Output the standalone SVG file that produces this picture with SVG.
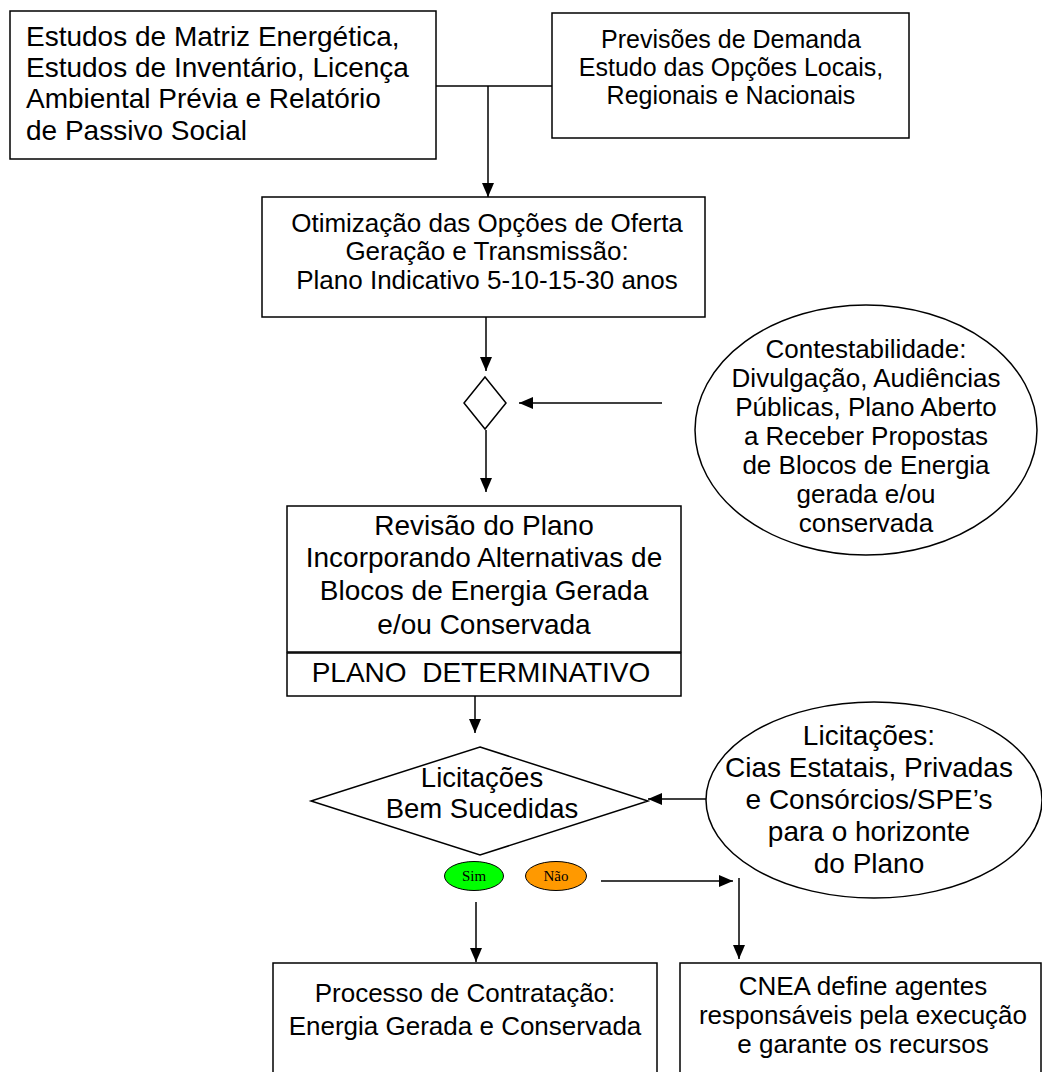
<svg xmlns="http://www.w3.org/2000/svg" width="1042" height="1072" viewBox="0 0 1042 1072">
<defs>
<marker id="ah" markerUnits="userSpaceOnUse" markerWidth="14" markerHeight="12" refX="14" refY="6" orient="auto">
<path d="M0,0 L14,6 L0,12 z" fill="#000"/>
</marker>
<style>
.box{fill:#fff;stroke:#000;stroke-width:1.5}
.t{font-family:"Liberation Sans",Arial,sans-serif;fill:#000}
.c{text-anchor:middle}
.ln{fill:none;stroke:#000;stroke-width:1.5}
.ar{fill:none;stroke:#000;stroke-width:1.5;marker-end:url(#ah)}
.s{font-family:"Liberation Serif","Times New Roman",serif;font-size:15px;text-anchor:middle;fill:#000}
</style>
</defs>
<rect width="1042" height="1072" fill="#fff"/>
<g id="connectors">
<line class="ln" x1="436" y1="86" x2="552" y2="86"/>
<line class="ar" x1="488" y1="86" x2="488" y2="197"/>
<line class="ar" x1="486" y1="317" x2="486" y2="371"/>
<line class="ar" x1="662" y1="403" x2="519" y2="403"/>
<line class="ar" x1="486" y1="430" x2="486" y2="492"/>
<line class="ar" x1="475" y1="696" x2="475" y2="733"/>
<line class="ar" x1="706" y1="799" x2="648" y2="799"/>
<line class="ar" x1="601" y1="881" x2="733" y2="881"/>
<line class="ar" x1="739" y1="878" x2="739" y2="959"/>
<line class="ar" x1="476" y1="902" x2="476" y2="962"/>
</g>
<g id="n1">
<rect class="box" x="10" y="11" width="426" height="148"/>
<text class="t" font-size="28" x="26" y="46">Estudos de Matriz Energética,</text>
<text class="t" font-size="28" x="26" y="77">Estudos de Inventário, Licença</text>
<text class="t" font-size="28" x="26" y="108">Ambiental Prévia e Relatório</text>
<text class="t" font-size="28" x="26" y="140">de Passivo Social</text>
</g>
<g id="n2">
<rect class="box" x="552" y="13" width="357" height="125"/>
<text class="t c" font-size="25" x="731" y="48">Previsões de Demanda</text>
<text class="t c" font-size="25" x="731" y="76">Estudo das Opções Locais,</text>
<text class="t c" font-size="25" x="731" y="104">Regionais e Nacionais</text>
</g>
<g id="n3">
<rect class="box" x="262" y="197" width="443" height="120"/>
<text class="t c" font-size="26" x="487" y="232">Otimização das Opções de Oferta</text>
<text class="t c" font-size="26" x="487" y="260">Geração e Transmissão:</text>
<text class="t c" font-size="26" x="487" y="289">Plano Indicativo 5-10-15-30 anos</text>
</g>
<g id="n4">
<polygon class="box" points="485,377 506,403 485,429 464,403"/>
</g>
<g id="n5">
<ellipse class="box" cx="866" cy="430" rx="171" ry="125"/>
<text class="t c" font-size="26" x="866" y="358">Contestabilidade:</text>
<text class="t c" font-size="26" x="866" y="387">Divulgação, Audiências</text>
<text class="t c" font-size="26" x="866" y="416">Públicas, Plano Aberto</text>
<text class="t c" font-size="26" x="866" y="445">a Receber Propostas</text>
<text class="t c" font-size="26" x="866" y="474">de Blocos de Energia</text>
<text class="t c" font-size="26" x="866" y="503">gerada e/ou</text>
<text class="t c" font-size="26" x="866" y="532">conservada</text>
</g>
<g id="n6">
<rect class="box" x="287" y="506" width="394" height="146"/>
<text class="t c" font-size="28" x="484" y="535">Revisão do Plano</text>
<text class="t c" font-size="28" x="484" y="567">Incorporando Alternativas de</text>
<text class="t c" font-size="28" x="484" y="600">Blocos de Energia Gerada</text>
<text class="t c" font-size="28" x="484" y="634">e/ou Conservada</text>
</g>
<g id="n7">
<rect class="box" x="287" y="653" width="394" height="43"/>
<text class="t c" font-size="28" x="481" y="682" xml:space="preserve">PLANO  DETERMINATIVO</text>
</g>
<g id="n8">
<polygon class="box" points="480,747 648,801 480,855 311,801"/>
<text class="t c" font-size="27.5" x="482" y="787">Licitações</text>
<text class="t c" font-size="27.5" x="482" y="818">Bem Sucedidas</text>
</g>
<g id="n9">
<ellipse class="box" cx="874" cy="800" rx="168" ry="98"/>
<text class="t c" font-size="28" x="869" y="745">Licitações:</text>
<text class="t c" font-size="28" x="869" y="777">Cias Estatais, Privadas</text>
<text class="t c" font-size="28" x="869" y="809">e Consórcios/SPE’s</text>
<text class="t c" font-size="28" x="869" y="841">para o horizonte</text>
<text class="t c" font-size="28" x="869" y="873">do Plano</text>
</g>
<g id="n10">
<ellipse cx="474" cy="876" rx="29.5" ry="14.5" fill="#00ff00" stroke="#000" stroke-width="1"/>
<text class="s" x="474" y="881">Sim</text>
</g>
<g id="n11">
<ellipse cx="556" cy="876" rx="30.5" ry="14.5" fill="#ff9900" stroke="#000" stroke-width="1"/>
<text class="s" x="556" y="881">Não</text>
</g>
<g id="n12">
<rect class="box" x="273" y="963" width="384" height="120"/>
<text class="t c" font-size="26" x="465" y="1002">Processo de Contratação:</text>
<text class="t c" font-size="26" x="465" y="1035">Energia Gerada e Conservada</text>
</g>
<g id="n13">
<rect class="box" x="680" y="963" width="361" height="120"/>
<text class="t c" font-size="26" x="863" y="995">CNEA define agentes</text>
<text class="t c" font-size="26" x="863" y="1024">responsáveis pela execução</text>
<text class="t c" font-size="26" x="863" y="1053">e garante os recursos</text>
</g>
</svg>
